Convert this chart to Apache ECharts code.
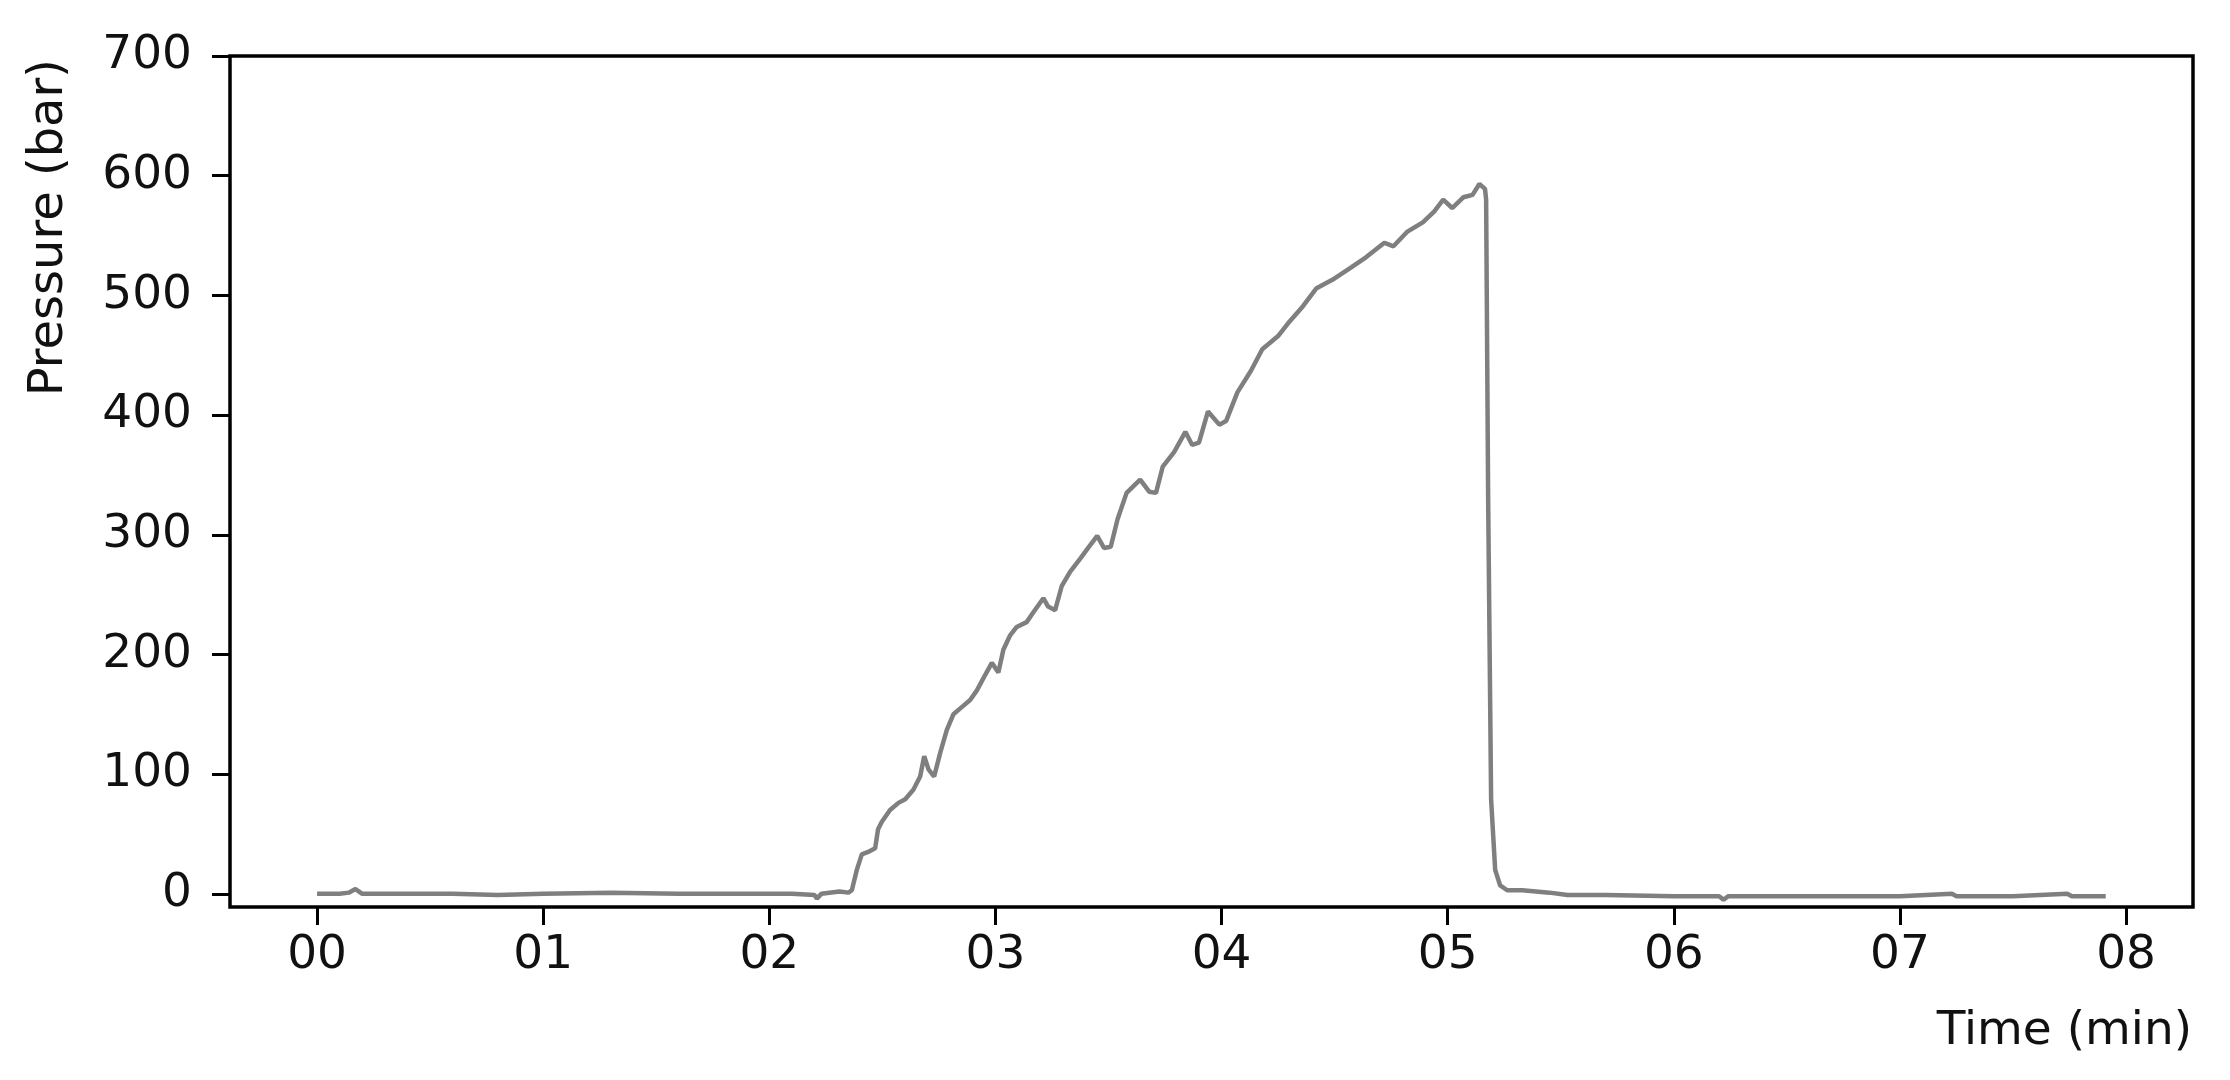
<!DOCTYPE html>
<html>
<head>
<meta charset="utf-8">
<script src="https://cdn.jsdelivr.net/npm/echarts@6/dist/echarts.min.js"></script>
<style>
	html, body {
		margin: 0;
		padding: 0;
		background: #fff;
	}

	#chart {
		width: 2230px;
		height: 1080px;
	}
</style>
</head>
<body>
<div id="chart"></div>
<script>
	// 时间 (min)
	var timeMin = [
		0.00, 0.10, 0.14, 0.17, 0.20, 0.40, 0.60, 0.80, 1.00, 1.30,
		1.60, 1.90, 2.10, 2.20, 2.21, 2.23, 2.31, 2.35, 2.365, 2.387,
		2.409, 2.437, 2.468, 2.481, 2.497, 2.534, 2.571, 2.601, 2.637, 2.667,
		2.685, 2.704, 2.729, 2.756, 2.785, 2.814, 2.851, 2.888, 2.918, 2.955,
		2.984, 3.013, 3.035, 3.065, 3.094, 3.138, 3.167, 3.212, 3.233, 3.264,
		3.293, 3.330, 3.375, 3.41, 3.45, 3.48, 3.51, 3.54, 3.58, 3.64,
		3.68, 3.71, 3.74, 3.79, 3.84, 3.87, 3.90, 3.94, 3.99, 4.02,
		4.07, 4.13, 4.18, 4.25, 4.30, 4.36, 4.42, 4.49, 4.57, 4.64,
		4.72, 4.76, 4.82, 4.89, 4.94, 4.98, 5.02, 5.07, 5.11, 5.14,
		5.165, 5.17, 5.179, 5.192, 5.21, 5.232, 5.263, 5.33, 5.45, 5.53,
		5.70, 6.00, 6.20, 6.22, 6.24, 6.50, 6.80, 7.00, 7.23, 7.25,
		7.50, 7.74, 7.76, 7.91
	];
	// 压力 (bar)
	var pressureBar = [
		0, 0, 1, 4, 0, 0, 0, -1, 0, 1,
		0, 0, 0, -1, -4, 0, 2, 1, 3, 20,
		33, 35, 38, 54, 60, 70, 76, 79, 87, 98,
		115, 104, 98, 118, 137, 150, 156, 162, 170, 183,
		193, 185, 204, 216, 223, 227, 235, 247, 240, 237,
		257, 269, 280, 289, 299, 289, 290, 313, 335, 346,
		336, 335, 357, 369, 386, 375, 377, 403, 392, 395,
		419, 437, 455, 466, 478, 491, 506, 513, 523, 532,
		544, 541, 553, 561, 570, 580, 573, 582, 584, 593,
		589, 580, 329, 79, 20, 7, 3, 3, 1, -1,
		-1, -2, -2, -5, -2, -2, -2, -2, 0, -2,
		-2, 0, -2, -2
	];
	// 刻度
	var xTicks = [0, 1, 2, 3, 4, 5, 6, 7, 8];
	var yTicks = [0, 100, 200, 300, 400, 500, 600, 700];

	var points = [];
	for (var i = 0; i < timeMin.length; i++) {
		points.push([timeMin[i], pressureBar[i]]);
	}

	var font = 'DejaVu Sans';
	var chart = echarts.init(document.getElementById('chart'), null, { renderer: 'canvas' });
	var option = {
		backgroundColor: '#fff',
		animation: false,
		grid: {
			left: 230,
			right: 37,
			top: 56,
			bottom: 173,
			show: true,
			borderColor: '#000',
			borderWidth: 3.5,
			backgroundColor: 'transparent'
		},
		xAxis: {
			type: 'value',
			min: -0.385,
			max: 8.296,
			axisLine: { show: false, onZero: false },
			splitLine: { show: false },
			axisTick: {
				show: true,
				inside: false,
				length: 18,
				customValues: xTicks,
				lineStyle: { color: '#000', width: 3 }
			},
			axisLabel: {
				customValues: xTicks,
				margin: 25,
				fontSize: 47,
				fontFamily: font,
				color: '#111',
				formatter: function (v) {
					return (v < 10 ? '0' : '') + v;
				}
			}
		},
		yAxis: {
			type: 'value',
			min: -11,
			max: 700,
			axisLine: { show: false, onZero: false },
			splitLine: { show: false },
			axisTick: {
				show: true,
				inside: false,
				length: 18,
				customValues: yTicks,
				lineStyle: { color: '#000', width: 3 }
			},
			axisLabel: {
				customValues: yTicks,
				margin: 38,
				fontSize: 47,
				fontFamily: font,
				color: '#111'
			}
		},
		graphic: [
			{
				type: 'text',
				x: 50,
				y: 59,
				rotation: Math.PI / 2,
				style: {
					text: 'Pressure (bar)',
					font: '48px "DejaVu Sans"',
					fill: '#111',
					align: 'right',
					verticalAlign: 'middle'
				}
			},
			{
				type: 'text',
				x: 2192,
				y: 1032,
				style: {
					text: 'Time (min)',
					font: '47px "DejaVu Sans"',
					fill: '#111',
					align: 'right',
					verticalAlign: 'middle'
				}
			}
		],
		series: [
			{
				type: 'line',
				data: points,
				showSymbol: false,
				symbol: 'none',
				lineStyle: { color: '#7f7f7f', width: 4.5 }
			}
		]
	};
	chart.setOption(option);
</script>
</body>
</html>
